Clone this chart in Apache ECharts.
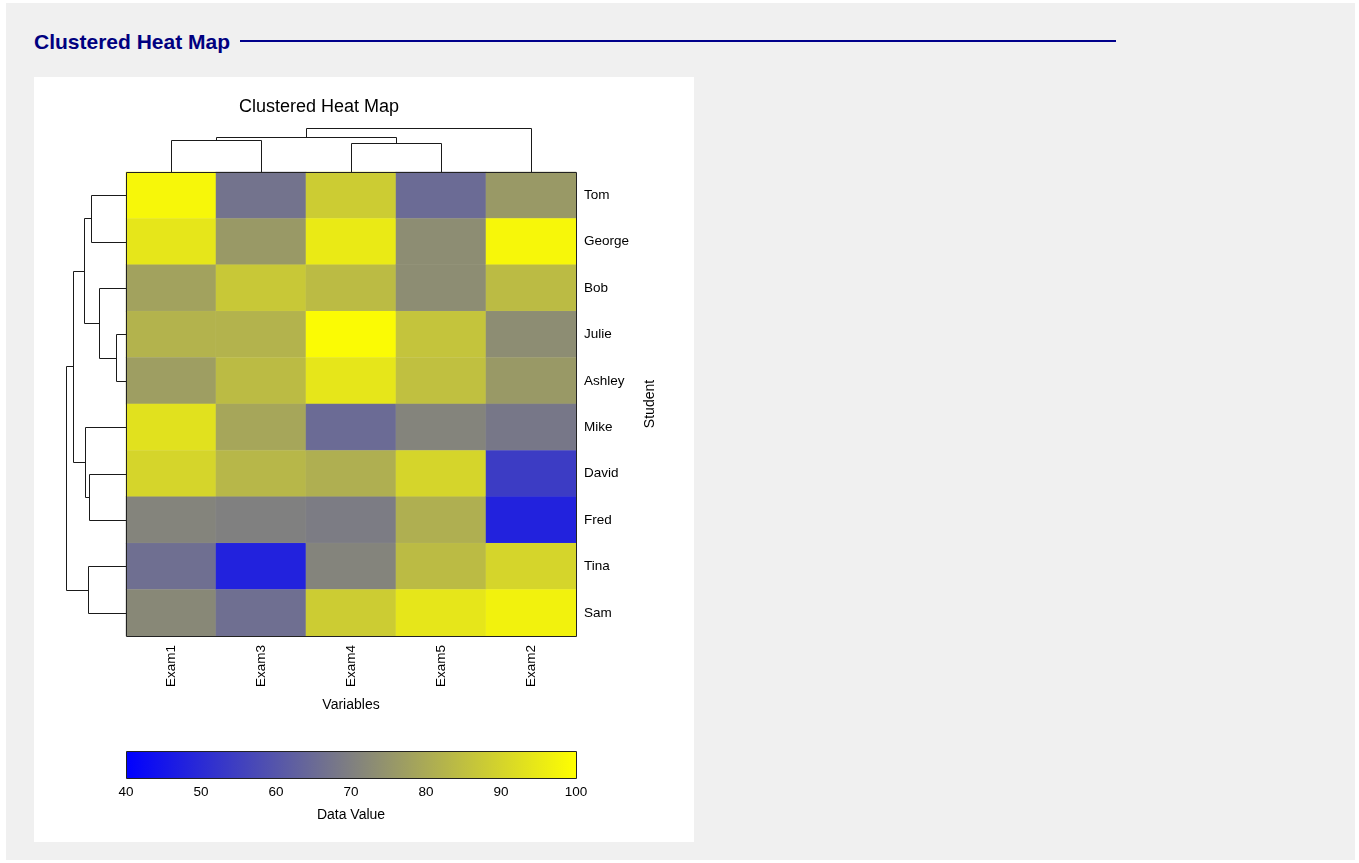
<!DOCTYPE html>
<html>
<head>
<meta charset="utf-8">
<title>Clustered Heat Map</title>
<script src="https://cdn.jsdelivr.net/npm/echarts@6/dist/echarts.min.js"></script>
<style>
  html, body { margin: 0; padding: 0; background: #ffffff; }
  body { width: 1359px; height: 863px; position: relative; overflow: hidden;
         font-family: "Liberation Sans", Arial, Helvetica, sans-serif; }
  #page { position: absolute; left: 6px; top: 3px; width: 1349px; height: 857px; background: #f0f0f0; }
  #heading { position: absolute; left: 28px; top: 28px; margin: 0; font-size: 21px; line-height: 21px;
             font-weight: bold; color: #000080; white-space: nowrap; }
  #rule { position: absolute; left: 234px; top: 37px; width: 876px; height: 2px; background: #00008b; }
  #panel { position: absolute; left: 28px; top: 74px; width: 660px; height: 765px; background: #ffffff; }
  #chart { width: 660px; height: 765px; }
</style>
</head>
<body>
<div id="page">
  <h2 id="heading">Clustered Heat Map</h2>
  <div id="rule"></div>
  <div id="panel"><div id="chart"></div></div>
</div>
<script>
// Rows (students) and columns (exams) in dendrogram leaf order
const students = ['Tom', 'George', 'Bob', 'Julie', 'Ashley', 'Mike', 'David', 'Fred', 'Tina', 'Sam'];
const exams = ['Exam1', 'Exam3', 'Exam4', 'Exam5', 'Exam2'];

// Scores per exam, one value per student (same order as students)
const exam1 = [98, 94, 78, 82, 77, 93, 90, 71, 66, 72];
const exam3 = [67, 76, 87, 82, 84, 79, 83, 70, 48, 66];
const exam4 = [88, 95, 84, 99, 94, 65, 81, 69, 71, 88];
const exam5 = [65, 73, 73, 86, 85, 71, 90, 81, 84, 94];
const exam2 = [76, 98, 84, 73, 76, 68, 54, 48, 90, 97];

// Colour bar tick values
const scaleTicks = [40, 50, 60, 70, 80, 90, 100];

// Hierarchical merges: [childA, childB, distance]; a string is a leaf,
// a number refers to an earlier merge in the same list
const examMerges = [
  ['Exam1', 'Exam3', 33],
  ['Exam4', 'Exam5', 30],
  [0, 1, 36],
  [2, 'Exam2', 45]
];
const studentMerges = [
  ['Julie', 'Ashley', 10.1],
  ['Tom', 'George', 35.3],
  ['Bob', 0, 27.6],
  [1, 2, 42],
  ['David', 'Fred', 36.7],
  ['Mike', 4, 41],
  [3, 5, 53.3],
  ['Tina', 'Sam', 37.7],
  [6, 7, 60.3]
];

const examColumns = [exam1, exam3, exam4, exam5, exam2];
const colourRange = ['#0000ff', '#808080', '#ffff00'];
const FONT = '"Liberation Sans", Arial, Helvetica, sans-serif';
const LABEL = { fontSize: 13.5, color: '#000', fontFamily: FONT };
const NAME = { fontSize: 14, color: '#000', fontFamily: FONT };

// Heat map cells: [column, row, value]
const cells = [];
examColumns.forEach((col, xi) => col.forEach((v, yi) => cells.push([xi, yi, v])));

// Turn merge lists into link segments [posA, posB, heightA, heightB, height]
function buildLinks(merges, leaves) {
  const pos = [], links = [];
  const node = c => typeof c === 'string' ? [leaves.indexOf(c), 0] : pos[c];
  merges.forEach(([a, b, h]) => {
    const na = node(a), nb = node(b);
    links.push([na[0], nb[0], na[1], nb[1], h]);
    pos.push([(na[0] + nb[0]) / 2, h]);
  });
  return links;
}
const examLinks = buildLinks(examMerges, exams);
const studentLinks = buildLinks(studentMerges, students);

const maxOf = m => Math.max(...m.map(r => r[2]));

function dendroRenderer(horizontal) {
  return function (params, api) {
    const pA = api.value(0), pB = api.value(1);
    const hA = api.value(2), hB = api.value(3), h = api.value(4);
    const pt = (p, v) => horizontal ? api.coord([p, v]) : api.coord([v, p]);
    const pts = [pt(pA, hA), pt(pA, h), pt(pB, h), pt(pB, hB)]
      .map(q => [Math.round(q[0]) + 0.5, Math.round(q[1]) + 0.5]);
    return {
      type: 'polyline',
      shape: { points: pts },
      style: { stroke: '#1a1a1a', fill: null, lineWidth: 1 }
    };
  };
}

const HM = { left: 92, top: 95, width: 450, height: 464 };

const option = {
  backgroundColor: '#ffffff',
  animation: false,
  textStyle: { fontFamily: FONT },
  title: {
    text: 'Clustered Heat Map',
    left: 200, top: 16,
    textStyle: { fontSize: 18, fontWeight: 'normal', color: '#000', fontFamily: FONT }
  },
  grid: [
    { left: HM.left, top: HM.top, width: HM.width, height: HM.height },           // heat map
    { left: HM.left, top: HM.top - 44, width: HM.width, height: 44 },               // column dendrogram
    { left: HM.left - 60, top: HM.top, width: 60, height: HM.height },              // row dendrogram
    { left: HM.left, top: 674, width: HM.width, height: 27 }                        // colour bar
  ],
  xAxis: [
    {
      gridIndex: 0, type: 'category', data: exams, position: 'bottom',
      axisLine: { show: false }, axisTick: { show: false }, splitLine: { show: false },
      axisLabel: Object.assign({ rotate: 90, margin: 9 }, LABEL),
      name: 'Variables', nameLocation: 'middle', nameGap: 62,
      nameTextStyle: NAME
    },
    { gridIndex: 1, type: 'value', min: -0.5, max: exams.length - 0.5, show: false },
    { gridIndex: 2, type: 'value', min: 0, max: maxOf(studentMerges), inverse: true, show: false },
    {
      gridIndex: 3, type: 'value', min: scaleTicks[0], max: scaleTicks[scaleTicks.length - 1],
      interval: scaleTicks[1] - scaleTicks[0],
      axisLine: { show: false }, axisTick: { show: false }, splitLine: { show: false },
      axisLabel: Object.assign({ margin: 7 }, LABEL),
      name: 'Data Value', nameLocation: 'middle', nameGap: 30,
      nameTextStyle: NAME
    }
  ],
  yAxis: [
    {
      gridIndex: 0, type: 'category', data: students, inverse: true, position: 'right',
      axisLine: { show: false }, axisTick: { show: false }, splitLine: { show: false },
      axisLabel: Object.assign({ margin: 8 }, LABEL),
      name: 'Student', nameLocation: 'middle', nameRotate: 90, nameGap: 67,
      nameTextStyle: NAME
    },
    { gridIndex: 1, type: 'value', min: 0, max: maxOf(examMerges), show: false },
    { gridIndex: 2, type: 'value', min: -0.5, max: students.length - 0.5, inverse: true, show: false },
    { gridIndex: 3, type: 'value', min: 0, max: 1, show: false }
  ],
  visualMap: {
    type: 'continuous', show: false, seriesIndex: 0,
    min: scaleTicks[0], max: scaleTicks[scaleTicks.length - 1],
    inRange: { color: colourRange }
  },
  series: [
    {
      type: 'heatmap', xAxisIndex: 0, yAxisIndex: 0, data: cells,
      itemStyle: { borderWidth: 0.6, borderColor: 'rgba(255,255,255,0.08)' },
      emphasis: { disabled: true }
    },
    {
      type: 'custom', xAxisIndex: 1, yAxisIndex: 1, data: examLinks,
      encode: { x: [0, 1], y: [2, 3, 4] },
      renderItem: dendroRenderer(true), silent: true
    },
    {
      type: 'custom', xAxisIndex: 2, yAxisIndex: 2, data: studentLinks,
      encode: { x: [2, 3, 4], y: [0, 1] },
      renderItem: dendroRenderer(false), silent: true
    },
    {
      type: 'custom', xAxisIndex: 3, yAxisIndex: 3,
      data: [[scaleTicks[0], scaleTicks[scaleTicks.length - 1]]],
      encode: { x: [0, 1] },
      silent: true,
      renderItem: function (params, api) {
        const a = api.coord([api.value(0), 0]);
        const b = api.coord([api.value(1), 1]);
        return {
          type: 'rect',
          shape: { x: Math.round(a[0]) + 0.5, y: Math.round(b[1]) + 0.5,
                   width: Math.round(b[0] - a[0]), height: Math.round(a[1] - b[1]) },
          style: {
            fill: new echarts.graphic.LinearGradient(0, 0, 1, 0,
              colourRange.map((c, i) => ({ offset: i / (colourRange.length - 1), color: c }))),
            stroke: '#222', lineWidth: 1
          }
        };
      }
    }
  ],
  graphic: [
    {
      type: 'rect', z: 100, silent: true,
      shape: { x: HM.left + 0.5, y: HM.top + 0.5, width: HM.width, height: HM.height },
      style: { fill: null, stroke: '#222', lineWidth: 1 }
    }
  ]
};

const chart = echarts.init(document.getElementById('chart'), null, { renderer: 'canvas' });
chart.setOption(option);
</script>
</body>
</html>
